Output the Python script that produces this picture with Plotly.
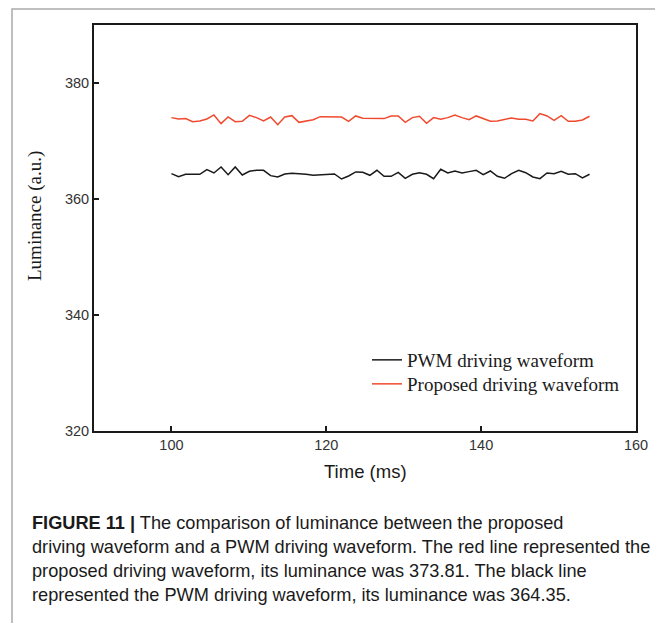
import plotly.graph_objects as go

time_ms = [100.00, 100.92, 101.83, 102.75, 103.66, 104.58, 105.49, 106.41, 107.32, 108.24,
           109.15, 110.07, 110.98, 111.90, 112.81, 113.73, 114.64, 115.56, 116.47, 117.39,
           118.31, 119.22, 120.14, 121.05, 121.97, 122.88, 123.80, 124.71, 125.63, 126.54,
           127.46, 128.37, 129.29, 130.20, 131.12, 132.03, 132.95, 133.86, 134.78, 135.69,
           136.61, 137.53, 138.44, 139.36, 140.27, 141.19, 142.10, 143.02, 143.93, 144.85,
           145.76, 146.68, 147.59, 148.51, 149.42, 150.34, 151.25, 152.17, 153.08, 154.00]

pwm_luminance = [364.37, 363.86, 364.26, 364.20, 364.26, 365.06, 364.49, 365.52, 364.20, 365.52,
                 364.14, 364.78, 364.95, 364.95, 364.03, 363.80, 364.31, 364.43, 364.37, 364.26,
                 364.09, 364.14, 364.26, 364.31, 363.45, 363.97, 364.66, 364.60, 364.09, 364.95,
                 363.91, 363.91, 364.60, 363.57, 364.26, 364.54, 364.26, 363.51, 365.12, 364.49,
                 364.83, 364.49, 364.72, 364.95, 364.20, 364.83, 363.91, 363.57, 364.37, 364.95,
                 364.54, 363.80, 363.51, 364.49, 364.37, 364.78, 364.26, 364.37, 363.63, 364.26]

proposed_luminance = [374.03, 373.80, 373.86, 373.34, 373.45, 373.80, 374.49, 372.99, 374.14, 373.34,
                      373.40, 374.43, 374.03, 373.45, 374.14, 372.82, 374.14, 374.37, 373.22, 373.45,
                      373.68, 374.20, 374.14, 374.09, 374.14, 373.40, 374.32, 373.91, 373.86, 373.86,
                      373.86, 374.32, 374.32, 373.22, 374.03, 374.26, 373.05, 374.03, 373.74, 374.03,
                      374.49, 374.03, 373.68, 374.32, 373.86, 373.40, 373.45, 373.74, 373.97, 373.74,
                      373.74, 373.45, 374.72, 374.32, 373.57, 374.37, 373.40, 373.40, 373.63, 374.26]

series_names = ["PWM driving waveform", "Proposed driving waveform"]
x_ticks = [100, 120, 140, 160]
y_ticks = [320, 340, 360, 380]
x_title = "Time (ms)"
y_title = "Luminance (a.u.)"
caption_lines = [
    "<b>FIGURE 11 |</b> The comparison of luminance between the proposed",
    "driving waveform and a PWM driving waveform. The red line represented the",
    "proposed driving waveform, its luminance was 373.81. The black line",
    "represented the PWM driving waveform, its luminance was 364.35.",
]

# window size and plot-area edges (window pixel coordinates)
W, H = 663, 623
L, R, T, B = 94, 636, 25, 431
OFF = 8  # default page body margin


def px(xp):
    return (xp - L) / (R - L)


def py(yp):
    return (B - yp) / (B - T)


fig = go.Figure()
fig.add_trace(go.Scatter(x=time_ms, y=pwm_luminance, mode="lines", name=series_names[0],
                         line=dict(color="#1a1a1a", width=1.5), legend="legend"))
fig.add_trace(go.Scatter(x=time_ms, y=proposed_luminance, mode="lines", name=series_names[1],
                         line=dict(color="#f04a2e", width=1.5), legend="legend2"))

axis_common = dict(showgrid=False, zeroline=False, showline=True, linecolor="#1a1a1a",
                   linewidth=2, mirror=True, ticks="inside", ticklen=5, tickwidth=2,
                   tickcolor="#1a1a1a",
                   tickfont=dict(family="Liberation Sans, Arial", size=14.5, color="#333333"))

fig.update_xaxes(range=[90, 160], tickvals=x_ticks, **axis_common)
fig.update_yaxes(range=[320, 390], tickvals=y_ticks, **axis_common)

annotations = [
    dict(text=x_title, x=px(365), y=py(471), xref="paper", yref="paper", showarrow=False,
         xanchor="center", yanchor="middle",
         font=dict(family="Liberation Sans, Arial", size=18.5, color="#1a1a1a")),
    dict(text=y_title, x=px(35), y=py(216), xref="paper", yref="paper", showarrow=False,
         xanchor="center", yanchor="middle", textangle=-90,
         font=dict(family="Liberation Serif, Times New Roman", size=19, color="#1a1a1a")),
]
for i, line in enumerate(caption_lines):
    annotations.append(dict(text=line, x=px(30), y=py(523 + 24 * i), xref="paper", yref="paper",
                            showarrow=False, xanchor="left", yanchor="middle", align="left",
                            font=dict(family="Liberation Sans, Arial", size=18.2, color="#1a1a1a")))

legend_style = dict(xanchor="left", yanchor="top", bgcolor="rgba(0,0,0,0)",
                    font=dict(family="Liberation Serif, Times New Roman", size=19, color="#1a1a1a"))

fig.update_layout(
    width=W - OFF, height=H - OFF,
    margin=dict(l=L - OFF, r=W - R, t=T - OFF, b=H - B),
    paper_bgcolor="white", plot_bgcolor="white",
    showlegend=True,
    legend=dict(x=px(367), y=py(341), **legend_style),
    legend2=dict(x=px(367), y=py(365), **legend_style),
    annotations=annotations,
    shapes=[dict(type="rect", xref="paper", yref="paper", x0=px(12), x1=px(700),
                 y0=py(9), y1=py(700), line=dict(color="#aaaaaa", width=1.5),
                 fillcolor="rgba(0,0,0,0)", layer="below")],
)

fig.write_html("out.html")
